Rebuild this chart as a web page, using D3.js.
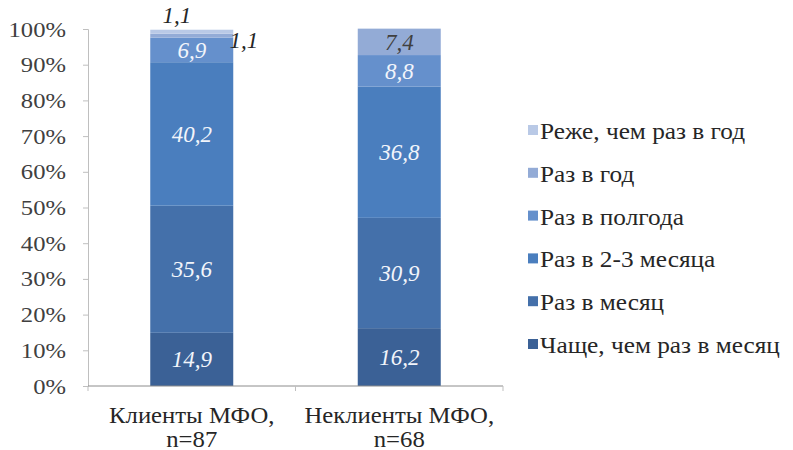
<!DOCTYPE html>
<html>
<head>
<meta charset="utf-8">
<script src="https://cdn.jsdelivr.net/npm/d3@7"></script>
<style>
body { margin: 0; background: #fff; }
</style>
</head>
<body>
<svg id="chart" width="793" height="450"></svg>
<script>
// data
var groups = ["Клиенты МФО,|n=87", "Неклиенты МФО,|n=68"];
var series = ["Чаще, чем раз в месяц", "Раз в месяц", "Раз в 2-3 месяца", "Раз в полгода", "Раз в год", "Реже, чем раз в год"];
var clients = [14.9, 35.6, 40.2, 6.9, 1.1, 1.1];
var nonClients = [16.2, 30.9, 36.8, 8.8, 7.4, 0];
var colors = ["#3b6196", "#4470aa", "#4a7ebe", "#6590cc", "#93abd6", "#b9c9e6"];
var yTicks = [0, 10, 20, 30, 40, 50, 60, 70, 80, 90, 100];

var values = [clients, nonClients];
var FONT = "Liberation Serif";

var svg = d3.select("#chart");
var mLeft = 88, mRight = 503, mTop = 29, mBottom = 386;

// the source picture is a bit wider than tall, so text is stretched sideways
function stretch(sel, sx){
	sel.each(function(){
		var t = d3.select(this);
		var X = +t.attr("x") || 0;
		t.attr("transform", "translate(" + X + ",0) scale(" + sx + ",1) translate(" + (-X) + ",0)");
	});
}

var x = d3.scaleBand().domain(d3.range(groups.length)).range([mLeft, mRight]).paddingInner(0.6).paddingOuter(0.3);
var y = d3.scaleLinear().domain([0, 100]).range([mBottom, mTop]);

// build stacked rows
var rows = groups.map(function(g, i){
	var r = {group: i};
	series.forEach(function(s, j){ r[s] = values[i][j]; });
	return r;
});
var stack = d3.stack().keys(series)(rows);

// y axis
var yAxis = svg.append("g")
	.attr("transform", "translate(" + mLeft + ",0)")
	.call(d3.axisLeft(y).tickValues(yTicks).tickSize(5).tickPadding(17).tickFormat(function(d){ return d + "%"; }));
yAxis.attr("font-family", FONT);
yAxis.select(".domain").attr("stroke", "#bfbfbf");
yAxis.selectAll(".tick line").attr("stroke", "#bfbfbf");
yAxis.selectAll("text").attr("font-size", "22px").attr("fill", "#404040")
	.attr("font-family", FONT)
	.call(stretch, 1.12);

// bars
svg.append("g").selectAll("g")
	.data(stack)
	.enter().append("g")
	.attr("fill", function(d, i){ return colors[i]; })
	.selectAll("rect")
	.data(function(d){ return d; })
	.enter().append("rect")
		.attr("x", function(d){ return x(d.data.group); })
		.attr("y", function(d){ return y(d[1]); })
		.attr("height", function(d){ return y(d[0]) - y(d[1]); })
		.attr("width", x.bandwidth());

// x axis
var xAxisG = svg.append("g").attr("transform", "translate(0," + mBottom + ")");
xAxisG.append("line").attr("x1", mLeft).attr("x2", mRight).attr("stroke", "#8c8c8c");
[0, 1, 2].forEach(function(k){
	var xx = mLeft + k * (mRight - mLeft) / 2;
	xAxisG.append("line").attr("x1", xx).attr("x2", xx).attr("y1", 0).attr("y2", 5).attr("stroke", "#bfbfbf");
});

groups.forEach(function(g, i){
	var parts = g.split("|");
	var cx = x(i) + x.bandwidth() / 2;
	parts.forEach(function(p, k){
		svg.append("text")
			.attr("x", cx)
			.attr("y", 423 + k * 24)
			.attr("text-anchor", "middle")
			.attr("font-size", "24px")
			.attr("fill", "#262626")
			.attr("font-family", FONT)
			.text(p)
			.call(stretch, 1.03);
	});
});

// value labels
var fmt = function(v){ return String(v).replace(".", ","); };
// manual shifts for labels that do not fit in their segment
var shifts = {"0_4": [-15, -21], "0_5": [52, 8]};
stack.forEach(function(layer, j){
	layer.forEach(function(d, i){
		var v = values[i][j];
		if (!v) return;
		var cx = x(i) + x.bandwidth() / 2;
		var cy = (y(d[0]) + y(d[1])) / 2;
		var sh = shifts[i + "_" + j] || [0, 0];
		var dark = (j >= 4);
		svg.append("text")
			.attr("x", cx + sh[0])
			.attr("y", cy + sh[1])
			.attr("dy", "0.35em")
			.attr("text-anchor", "middle")
			.attr("font-size", "23px")
			.attr("font-style", "italic")
			.attr("fill", dark ? (i == 0 ? "#262626" : "#404040") : "#f2f5fb")
			.attr("font-family", FONT)
			.text(fmt(v));
	});
});

// legend
var legend = svg.append("g");
var legendItems = series.slice().reverse();
var legendColors = colors.slice().reverse();
legendItems.forEach(function(s, k){
	var ly = 131 + k * 42.8;
	legend.append("rect").attr("x", 528).attr("y", ly - 6).attr("width", 10).attr("height", 10).attr("fill", legendColors[k]);
	legend.append("text").attr("x", 540).attr("y", ly).attr("dy", "0.35em")
		.attr("font-size", "23px").attr("fill", "#262626")
		.attr("font-family", FONT)
		.text(s)
		.call(stretch, 1.1);
});
</script>
</body>
</html>
